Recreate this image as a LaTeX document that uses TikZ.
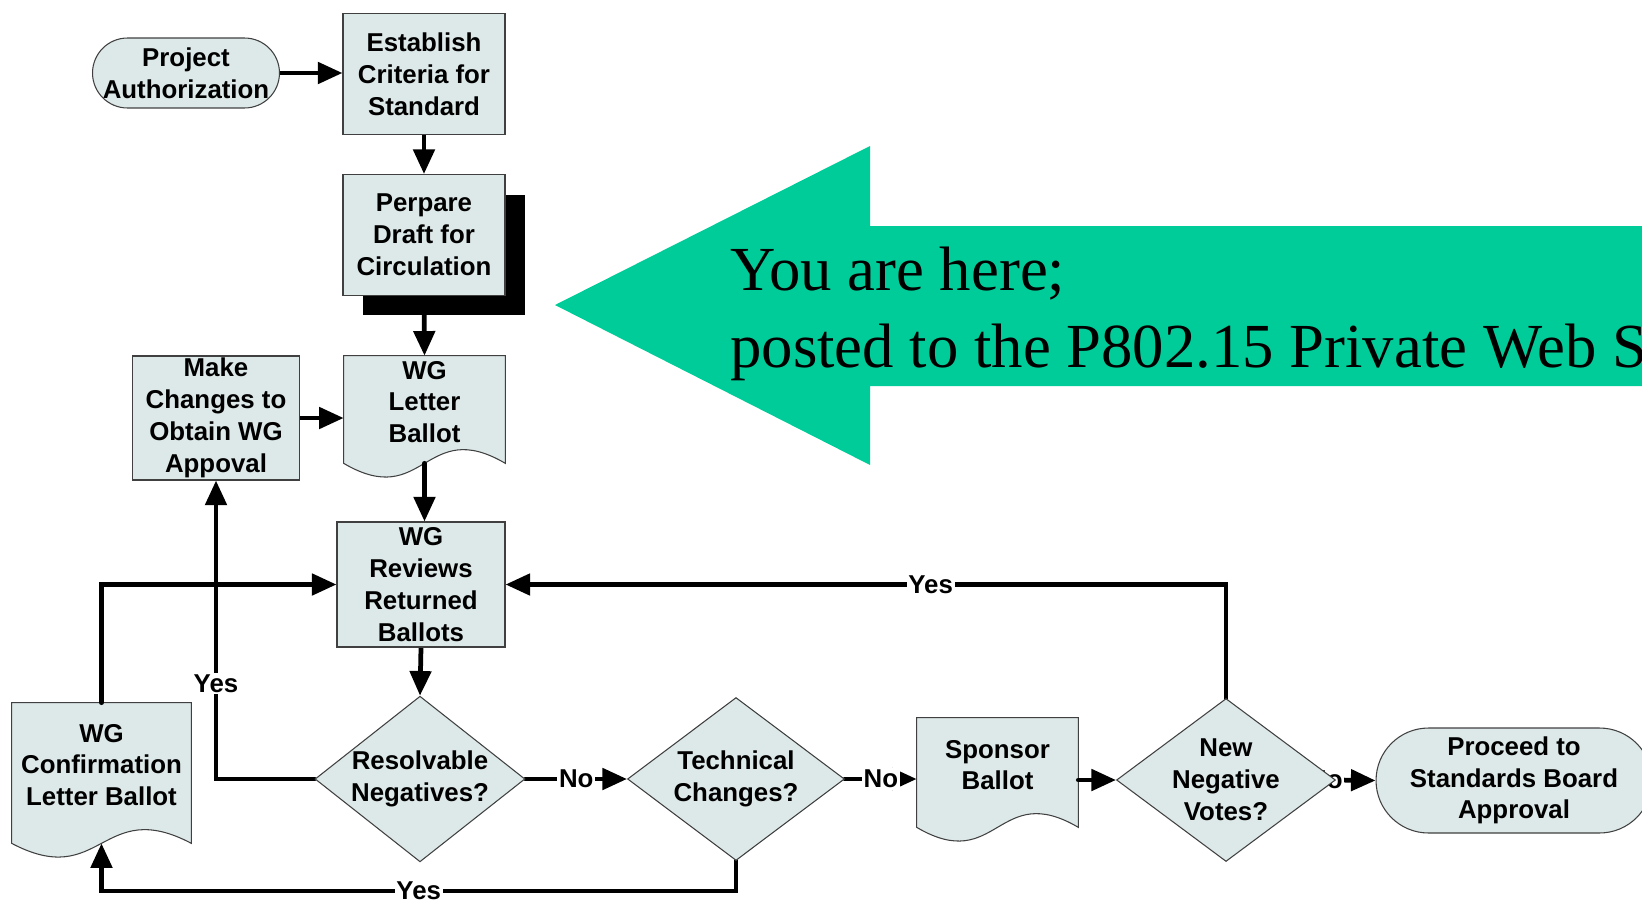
\documentclass[tikz,border=0pt]{standalone}
\usepackage{fontspec}
\setmainfont{Liberation Serif}
\setsansfont{Liberation Sans}
\usetikzlibrary{calc,arrows.meta,shapes.geometric,shadows,backgrounds}
\definecolor{boxfill}{HTML}{DDE8E8}
\definecolor{edgegray}{HTML}{404040}
\definecolor{herogreen}{HTML}{00CC99}
\tikzset{
  chart/.style={font=\sffamily\bfseries\fontsize{14.7}{18.1}\selectfont, align=center},
  process/.style={chart, rectangle, draw=edgegray, line width=0.6pt, fill=boxfill, inner sep=1pt},
  decision/.style={chart, diamond, draw=edgegray, line width=0.6pt, fill=boxfill, inner sep=-4pt},
  document/.style={chart, rectangle, inner sep=1pt},
  flow/.style={line width=2.7pt, line cap=round, -{Triangle[length=14pt,width=12pt]}},
  answer/.style={chart, fill=white, inner sep=1pt},
}
\newcommand\wavedoc[2][0.3cm]{%
  \filldraw[fill=boxfill, draw=edgegray, line width=0.6pt]
    (#2.north west) -- (#2.north east) -- ($(#2.south east)+(0,-#1)$)
    .. controls ($(#2.south)+(0,0.95cm-#1)$) and ($(#2.south)+(0,-0.95cm-#1)$)
    .. ($(#2.south west)+(0,-#1)$) -- cycle;
  \coordinate (#2-b) at ($(#2.south)+(0,-#1)$);
}

\begin{document}
\begin{tikzpicture}[x=0.02cm, y=-0.02cm]
	\useasboundingbox (0,0) rectangle (1642,903);

	\fill[herogreen] (555,305) -- (870,146) -- (870,226) -- (1700,226) -- (1700,386) -- (870,386) -- (870,465) -- cycle;
	\node[anchor=base west, inner sep=0pt, font=\fontsize{35.7}{43.7}\selectfont] (hereA) at (730,290) {You are here;};
	\node[anchor=base west, inner sep=0pt, font=\fontsize{35.7}{43.7}\selectfont] (hereB) at (730,367) {posted to the P802.15 Private Web Site};

	\node[process, rounded corners=0.7cm, minimum width=3.74cm, minimum height=1.4cm] (auth) at (186,73) {Project\\Authorization};
	\node[process, minimum width=3.24cm, minimum height=2.42cm] (crit) at (424,74) {Establish\\Criteria for\\Standard};
	\node[process, minimum width=3.24cm, minimum height=2.42cm,
	      drop shadow={shadow xshift=0.4cm, shadow yshift=-0.4cm, fill=black, opacity=1}] (draft) at (424,235) {Perpare\\Draft for\\Circulation};
	\node[process, minimum width=3.34cm, minimum height=2.48cm] (mc) at (216,418) {Make\\Changes to\\Obtain WG\\Appoval};
	\node[document, minimum width=3.22cm, minimum height=1.84cm] (lb) at (424.5,402) {WG\\Letter\\Ballot};
	\node[process, minimum width=3.36cm, minimum height=2.5cm] (rev) at (421,584.5) {WG\\Reviews\\Returned\\Ballots};
	\node[document, minimum width=3.58cm, minimum height=2.48cm] (wgc) at (101.5,765) {WG\\Confirmation\\Letter Ballot};
	\node[decision, minimum width=4.2cm, minimum height=3.24cm] (res) at (420,779) {Resolvable\\Negatives?};
	\node[decision, minimum width=4.34cm, minimum height=3.26cm] (tech) at (736,779) {Technical\\Changes?};
	\node[document, minimum width=3.22cm, minimum height=1.88cm] (sp) at (997.5,765) {Sponsor\\Ballot};
	\node[decision, minimum width=4.38cm, minimum height=3.26cm] (nn) at (1226,780) {New\\Negative\\Votes?};
	\node[process, rounded corners=1.05cm, minimum width=5.52cm, minimum height=2.1cm] (pr) at (1514,780.5) {Proceed to\\Standards Board\\Approval};

	\begin{scope}[on background layer]
		\wavedoc{lb}
		\wavedoc[0.32cm]{wgc}
		\wavedoc{sp}

		\draw[flow] (auth.east) -- (auth.east -| crit.west);
		\draw[flow] (crit.south) -- (draft.north);
		\draw[flow] (draft.south) -- (lb.north);
		\draw[flow] (mc.east) -- (mc.east -| lb.west);
		\draw[flow] (lb-b) -- (lb-b |- rev.north);
		\draw[flow] (rev.south) -- (res.north);
		\draw[flow] (res.west) -| node[answer, pos=0.66] {Yes} (mc.south);
		\draw[flow] (wgc.north) |- (rev.west);
		\draw[flow] (res.east) -- node[answer] {No} (tech.west);
		\draw[flow] (tech.south) -- ++(0,30) -| node[answer, pos=0.25] {Yes} (wgc-b);
		\draw[flow] (tech.east) -- node[answer] {No} (tech.east -| sp.west);
		\draw[flow] (nn.west -| sp.east) -- (nn.west);
		\draw[flow] (nn.north) |- node[answer, pos=0.705] {Yes} (rev.east);
		\draw[flow] (nn.east) -- node[answer, pos=-0.27] {No} (pr.west);
	\end{scope}
\end{tikzpicture}
\end{document}
